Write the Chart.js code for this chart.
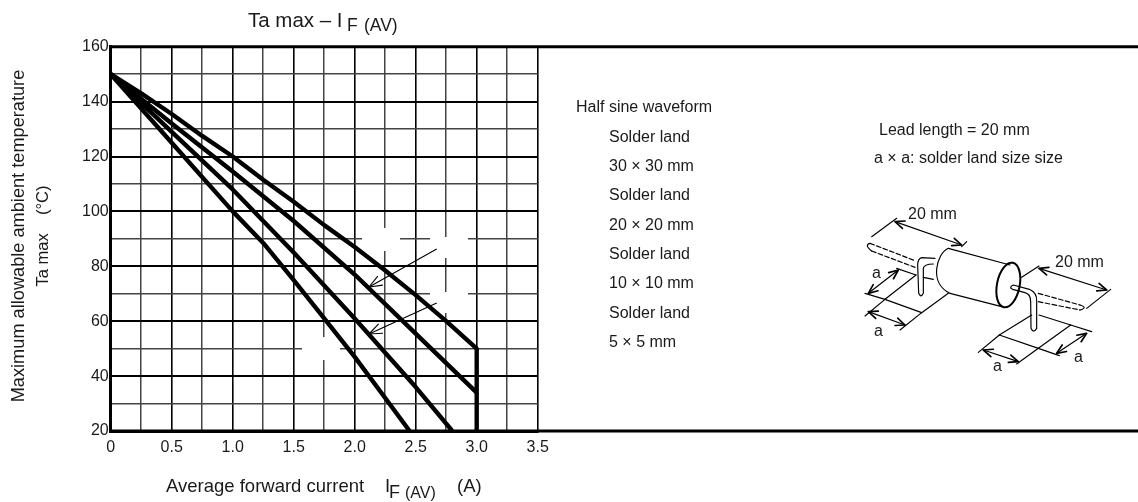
<!DOCTYPE html>
<html>
<head>
<meta charset="utf-8">
<title>Ta max - IF (AV)</title>
<script src="https://cdn.jsdelivr.net/npm/chart.js@4/dist/chart.umd.min.js"></script>
<style>
  html, body { margin: 0; padding: 0; background: #fff; }
  canvas { display: block; }
</style>
</head>
<body>
<canvas id="grafico" width="1138" height="502"></canvas>
<script>
// values
const land30x = [0, 0.25, 0.5, 0.75, 1.0, 1.25, 1.5, 1.75, 2.0, 2.25, 2.5, 2.75, 3.0];
const land30y = [150, 143, 135.5, 127.5, 120, 111.5, 103.5, 95, 87, 78.5, 69.5, 60, 50];
const land20x = [0, 0.5, 1.0, 1.5, 2.0, 2.5, 3.0];
const land20y = [150, 132, 114.5, 96.5, 77, 55.5, 34];
const land10x = [0, 0.5, 1.0, 1.5, 2.0, 2.5, 2.8];
const land10y = [150, 129, 108, 85, 61, 36, 20];
const land5x  = [0, 0.5, 1.0, 1.25, 1.5, 1.75, 2.0, 2.25, 2.45];
const land5y  = [150, 125, 100, 88.5, 75, 61, 47, 32, 20];
const limitX  = [3.0, 3.0];
const limitY  = [50, 20];

const xTickLabels = ['0', '0.5', '1.0', '1.5', '2.0', '2.5', '3.0', '3.5'];
const yTickLabels = ['20', '40', '60', '80', '100', '120', '140', '160'];

const noteLines = [
  ['Half sine waveform', 576, 112],
  ['Solder land', 609, 142],
  ['30 \u00d7 30 mm', 609, 171],
  ['Solder land', 609, 200],
  ['20 \u00d7 20 mm', 609, 230],
  ['Solder land', 609, 259],
  ['10 \u00d7 10 mm', 609, 288],
  ['Solder land', 609, 318],
  ['5 \u00d7 5 mm', 609, 347],
  ['Lead length = 20 mm', 879, 135],
  ['a \u00d7 a: solder land size size', 874, 163]
];

const FONT = '"Liberation Sans", Arial, sans-serif';
const INK = '#1a1a1a';

function pares(xs, ys) { return xs.map((x, i) => ({ x: x, y: ys[i] })); }

function curva(xs, ys) {
  return {
    data: pares(xs, ys),
    showLine: true,
    borderColor: '#000',
    borderWidth: 4.4,
    pointRadius: 0,
    tension: 0,
    borderJoinStyle: 'round'
  };
}

function texto(ctx, s, x, y, size) {
  ctx.font = size + 'px ' + FONT;
  ctx.fillStyle = INK;
  ctx.textAlign = 'left';
  ctx.textBaseline = 'alphabetic';
  ctx.fillText(s, x, y);
}

function linea(ctx, x1, y1, x2, y2) {
  ctx.beginPath();
  ctx.moveTo(x1, y1);
  ctx.lineTo(x2, y2);
  ctx.stroke();
}

function punta(ctx, x1, y1, x2, y2, len, ang) {
  const a = Math.atan2(y2 - y1, x2 - x1);
  ctx.beginPath();
  ctx.moveTo(x2 - len * Math.cos(a - ang), y2 - len * Math.sin(a - ang));
  ctx.lineTo(x2, y2);
  ctx.lineTo(x2 - len * Math.cos(a + ang), y2 - len * Math.sin(a + ang));
  ctx.stroke();
}

function flechaDoble(ctx, x1, y1, x2, y2) {
  linea(ctx, x1, y1, x2, y2);
  ctx.save();
  ctx.lineWidth = 5;
  punta(ctx, x1, y1, x2, y2, 30, 0.4);
  punta(ctx, x2, y2, x1, y1, 30, 0.4);
  ctx.restore();
}

// the lead and solder land sketch, written in 3x units from (840,190)
function dibujarDiodo(ctx) {
  ctx.save();
  ctx.translate(840, 190);
  ctx.scale(1 / 3, 1 / 3);
  ctx.strokeStyle = '#000';
  ctx.lineWidth = 3.5;
  ctx.lineJoin = 'round';
  ctx.lineCap = 'round';

  // body
  linea(ctx, 325, 175, 510, 225);
  linea(ctx, 330, 310, 485, 350);
  ctx.beginPath();
  ctx.moveTo(325, 175);
  ctx.bezierCurveTo(290, 190, 265, 280, 330, 310);
  ctx.stroke();
  ctx.lineWidth = 6;
  ctx.beginPath();
  ctx.ellipse(505, 285, 34, 68, 0.2, 0, Math.PI * 2);
  ctx.stroke();
  ctx.lineWidth = 3.5;

  // left lead
  ctx.beginPath();
  ctx.moveTo(285, 205);
  ctx.lineTo(245, 203);
  ctx.quadraticCurveTo(233, 207, 233, 225);
  ctx.lineTo(236, 310);
  ctx.quadraticCurveTo(243, 325, 250, 310);
  ctx.lineTo(250, 235);
  ctx.quadraticCurveTo(252, 222, 280, 222);
  ctx.stroke();
  linea(ctx, 250, 262, 280, 268);
  ctx.setLineDash([14, 7]);
  linea(ctx, 90, 160, 225, 212);
  linea(ctx, 95, 183, 225, 232);
  ctx.setLineDash([]);
  ctx.beginPath();
  ctx.moveTo(90, 160);
  ctx.quadraticCurveTo(72, 165, 95, 183);
  ctx.stroke();

  // right lead
  ctx.beginPath();
  ctx.moveTo(520, 285);
  ctx.lineTo(568, 298);
  ctx.quadraticCurveTo(592, 308, 590, 335);
  ctx.lineTo(590, 415);
  ctx.quadraticCurveTo(580, 432, 573, 415);
  ctx.lineTo(572, 335);
  ctx.quadraticCurveTo(572, 312, 555, 308);
  ctx.lineTo(518, 298);
  ctx.quadraticCurveTo(505, 292, 520, 285);
  ctx.stroke();
  ctx.setLineDash([14, 7]);
  linea(ctx, 595, 310, 720, 345);
  linea(ctx, 595, 335, 720, 360);
  ctx.setLineDash([]);
  ctx.beginPath();
  ctx.moveTo(720, 345);
  ctx.quadraticCurveTo(745, 352, 720, 360);
  ctx.stroke();

  // solder lands
  linea(ctx, 135, 328, 245, 368);
  linea(ctx, 245, 368, 325, 310);
  linea(ctx, 135, 328, 228, 255);
  linea(ctx, 478, 435, 595, 475);
  linea(ctx, 595, 475, 692, 405);
  linea(ctx, 478, 435, 575, 375);
  linea(ctx, 597, 375, 692, 405);

  // extension lines
  linea(ctx, 95, 140, 170, 85);
  linea(ctx, 365, 170, 380, 155);
  linea(ctx, 545, 262, 597, 228);
  linea(ctx, 740, 355, 812, 298);
  linea(ctx, 75, 310, 135, 328);
  linea(ctx, 170, 235, 228, 255);
  linea(ctx, 75, 378, 135, 328);
  linea(ctx, 180, 420, 245, 368);
  linea(ctx, 415, 487, 478, 435);
  linea(ctx, 530, 522, 595, 475);
  linea(ctx, 692, 405, 755, 425);
  linea(ctx, 595, 475, 658, 497);

  // dimension arrows
  flechaDoble(ctx, 165, 95, 365, 165);
  flechaDoble(ctx, 597, 235, 800, 300);
  flechaDoble(ctx, 85, 310, 175, 240);
  flechaDoble(ctx, 85, 365, 195, 405);
  flechaDoble(ctx, 430, 480, 535, 515);
  flechaDoble(ctx, 650, 490, 740, 430);
  ctx.restore();

  texto(ctx, '20 mm', 908, 219, 16);
  texto(ctx, '20 mm', 1055, 267, 16);
  texto(ctx, 'a', 872, 278, 16);
  texto(ctx, 'a', 874, 336, 16);
  texto(ctx, 'a', 993, 371, 16);
  texto(ctx, 'a', 1074, 362, 16);
}

const extras = {
  id: 'extras',
  beforeDatasetsDraw(chart) {
    // grid is broken around the old label spots in the scan
    const ctx = chart.ctx;
    ctx.save();
    ctx.fillStyle = '#fff';
    ctx.fillRect(362, 228, 38, 23);
    ctx.fillRect(430, 237, 38, 21);
    ctx.fillRect(430, 292, 38, 21);
    ctx.fillRect(302, 337, 38, 23);
    ctx.restore();
  },
  afterDraw(chart) {
    const ctx = chart.ctx;
    const a = chart.chartArea;
    ctx.save();
    ctx.strokeStyle = '#000';

    // frame runs on to the right edge of the page
    ctx.lineWidth = 3;
    linea(ctx, a.left, a.top, 1138, a.top);
    linea(ctx, a.left, a.bottom, 1138, a.bottom);

    // pointer arrows
    ctx.lineWidth = 1.1;
    linea(ctx, 436.7, 249, 369, 287);
    punta(ctx, 436.7, 249, 369, 287, 14, 0.38);
    linea(ctx, 436.7, 303, 369, 334);
    punta(ctx, 436.7, 303, 369, 334, 14, 0.38);

    // title
    texto(ctx, 'Ta max \u2013 I', 248, 27, 20.5);
    texto(ctx, 'F', 347, 31, 17.5);
    texto(ctx, '(AV)', 364, 31, 17.5);

    // x title
    texto(ctx, 'Average forward current', 166, 492, 18.5);
    texto(ctx, 'I', 385, 492, 18.5);
    texto(ctx, 'F', 389, 498, 18);
    texto(ctx, '(AV)', 405, 498, 16);
    texto(ctx, '(A)', 457, 492, 18.5);

    // y title
    ctx.save();
    ctx.translate(24, 236);
    ctx.rotate(-Math.PI / 2);
    ctx.fillStyle = INK;
    ctx.textAlign = 'center';
    ctx.font = '18.2px ' + FONT;
    ctx.fillText('Maximum allowable ambient temperature', 0, 0);
    ctx.font = '16.5px ' + FONT;
    ctx.fillText('Ta max    (\u00b0C)', 0, 24);
    ctx.restore();

    noteLines.forEach(l => texto(ctx, l[0], l[1], l[2], 16));
    dibujarDiodo(ctx);
    ctx.restore();
  }
};

new Chart(document.getElementById('grafico').getContext('2d'), {
  type: 'scatter',
  data: {
    datasets: [
      curva(land30x, land30y),
      curva(land20x, land20y),
      curva(land10x, land10y),
      curva(land5x, land5y),
      curva(limitX, limitY)
    ]
  },
  options: {
    responsive: false,
    animation: false,
    layout: { padding: { left: 0, top: 46.7, right: 600.3, bottom: 0 } },
    plugins: { legend: { display: false }, tooltip: { enabled: false }, title: { display: false } },
    scales: {
      x: {
        type: 'linear',
        min: 0,
        max: 3.5,
        afterFit: (s) => { s.height = 71; },
        afterBuildTicks: (s) => {
          s.ticks = [];
          for (let i = 0; i <= 14; i++) s.ticks.push({ value: i * 0.25 });
        },
        ticks: {
          autoSkip: false,
          maxRotation: 0,
          padding: 7,
          color: INK,
          font: { family: FONT, size: 16 },
          callback: (v, i) => (i % 2 === 0 ? xTickLabels[i / 2] : '')
        },
        grid: {
          drawTicks: false,
          color: (c) => (c.index % 2 === 0 ? '#000' : '#444'),
          lineWidth: (c) => (c.index % 2 === 0 ? 1.6 : 1.5)
        },
        border: { color: '#000', width: 3 }
      },
      y: {
        type: 'linear',
        min: 20,
        max: 160,
        afterFit: (s) => { s.width = 110.7; },
        afterBuildTicks: (s) => {
          s.ticks = [];
          for (let i = 0; i <= 14; i++) s.ticks.push({ value: 20 + i * 10 });
        },
        ticks: {
          autoSkip: false,
          padding: 2,
          color: INK,
          font: { family: FONT, size: 16 },
          callback: (v, i) => (i % 2 === 0 ? yTickLabels[i / 2] : '')
        },
        grid: {
          drawTicks: false,
          color: (c) => (c.index % 2 === 0 ? '#000' : '#444'),
          lineWidth: (c) => (c.index % 2 === 0 ? 2 : 1.5)
        },
        border: { color: '#000', width: 3 }
      }
    }
  },
  plugins: [extras]
});
</script>
</body>
</html>
